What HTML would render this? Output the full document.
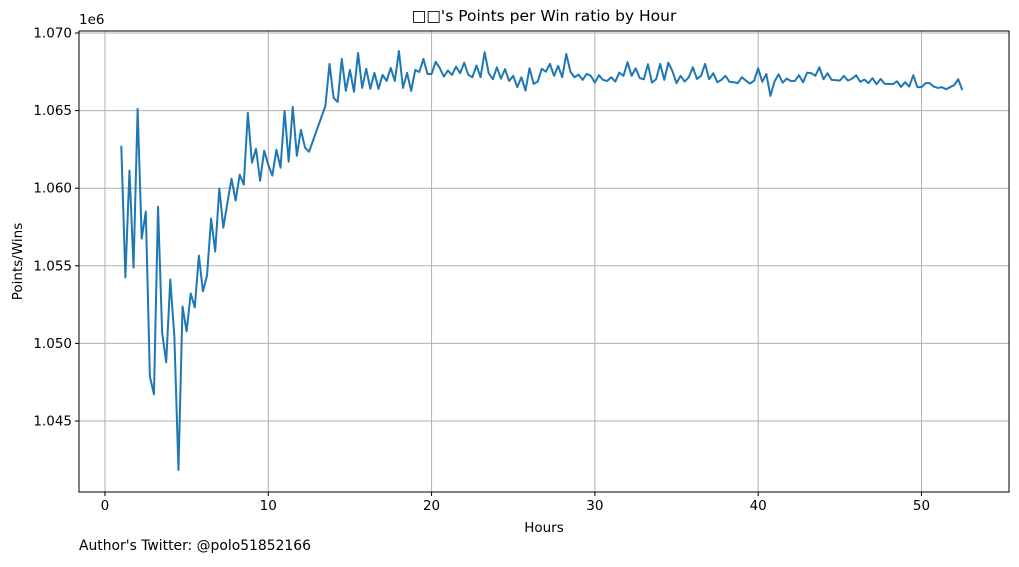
<!DOCTYPE html>
<html><head><meta charset="utf-8"><style>
body{margin:0;background:#fff;}
svg text{font-family:"DejaVu Sans","Liberation Sans","Noto Sans CJK SC",sans-serif;fill:#000;}
</style></head><body>
<svg id="chart" width="1019" height="562" xmlns="http://www.w3.org/2000/svg"></svg>
<script>
const xTicks=[0,10,20,30,40,50];
const yTicks=[1045000,1050000,1055000,1060000,1065000,1070000];
const yTickLabels=["1.045","1.050","1.055","1.060","1.065","1.070"];
const hours=[1,1.25,1.5,1.75,2,2.25,2.5,2.75,3,3.25,3.5,3.75,4,4.25,4.5,4.75,5,5.25,5.5,5.75,6,6.25,6.5,6.75,7,7.25,7.5,7.75,8,8.25,8.5,8.75,9,9.25,9.5,9.75,10,10.25,10.5,10.75,11,11.25,11.5,11.75,12,12.25,12.5,
13.5,13.75,14,14.25,14.5,14.75,15,15.25,15.5,15.75,16,16.25,16.5,16.75,17,17.25,17.5,17.75,18,18.25,18.5,18.75,19,19.25,19.5,19.75,20,20.25,20.5,20.75,21,21.25,21.5,21.75,22,22.25,22.5,22.75,23,23.25,23.5,23.75,24,24.25,24.5,24.75,25,25.25,25.5,25.75,26,26.25,26.5,26.75,27,27.25,27.5,27.75,28,28.25,28.5,28.75,29,29.25,29.5,29.75,30,30.25,30.5,30.75,31,31.25,31.5,31.75,32,32.25,32.5,32.75,33,33.25,33.5,33.75,34,34.25,34.5,34.75,35,35.25,35.5,35.75,36,36.25,36.5,36.75,37,37.25,37.5,37.75,38,38.25,38.5,38.75,39,39.25,39.5,39.75,40,40.25,40.5,40.75,41,41.25,41.5,41.75,42,42.25,42.5,42.75,43,43.25,43.5,43.75,44,44.25,44.5,44.75,45,45.25,45.5,45.75,46,46.25,46.5,46.75,47,47.25,47.5,47.75,48,48.25,48.5,48.75,49,49.25,49.5,49.75,50,50.25,50.5,50.75,51,51.25,51.5,51.75,52,52.25,52.5,52.8];
const ratioK=[1062.73,1054.25,1061.13,1054.89,1065.11,1056.75,1058.49,1047.88,1046.72,1058.81,1050.71,1048.78,1054.12,1050.45,1041.84,1052.38,1050.77,1053.22,1052.32,1055.66,1053.35,1054.38,1058.04,1055.92,1059.97,1057.46,1059.07,1060.61,1059.20,1060.87,1060.23,1064.86,1061.64,1062.54,1060.48,1062.41,1061.51,1060.81,1062.48,1061.32,1064.98,1061.71,1065.24,1062.09,1063.76,1062.61,1062.35,
1065.31,1068.01,1065.82,1065.56,1068.33,1066.27,1067.62,1066.21,1068.71,1066.46,1067.69,1066.40,1067.43,1066.40,1067.30,1066.91,1067.75,1066.91,1068.84,1066.46,1067.43,1066.27,1067.62,1067.49,1068.33,1067.36,1067.36,1068.14,1067.75,
1067.19,1067.58,1067.30,1067.83,1067.41,1068.09,1067.30,1067.15,1067.90,1067.15,1068.76,1067.41,1067.02,1067.79,1067.06,1067.67,1066.91,1067.24,1066.51,1067.15,1066.29,1067.73,1066.72,1066.87,1067.69,1067.51,1068.01,1067.24,1067.88,1067.15,1068.65,1067.51,1067.15,1067.32,1066.98,1067.36,1067.24,1066.80,1067.28,1066.98,1066.91,1067.15,1066.87,1067.45,1067.24,1068.12,1067.24,1067.73,1067.09,1067.02,1067.99,1066.80,1067.02,1068.01,1066.98,1068.09,1067.54,1066.77,1067.24,1066.87,1067.15,1067.79,1067.04,1067.24,1068.01,1067.02,1067.41,1066.83,
1066.98,1067.24,1066.85,1066.83,1066.77,1067.15,1066.93,1066.74,1066.93,1067.73,1066.85,1067.36,1065.95,1066.87,1067.34,1066.80,1067.06,1066.91,1066.91,1067.28,1066.83,1067.45,1067.41,1067.24,1067.79,1067.02,1067.41,1066.98,1066.96,1066.93,1067.24,1066.93,1067.06,1067.28,1066.85,1067.00,1066.77,1067.09,1066.70,1067.04,1066.72,1066.72,1066.70,1066.89,1066.53,1066.83,1066.55,1067.28,1066.51,1066.51,1066.77,1066.77,1066.55,1066.46,1066.51,1066.38,1066.51,1066.64,1067.02,1066.33];

const NS="http://www.w3.org/2000/svg";
const svg=document.getElementById('chart');
const L=79,R=1009,T=31,B=492;
const xMin=-1.59,xMax=55.36,yMin=1040425,yMax=1070129;
const xs=v=>L+(v-xMin)/(xMax-xMin)*(R-L);
const ys=v=>B-(v-yMin)/(yMax-yMin)*(B-T);
function mk(tag,attrs,txt){const e=document.createElementNS(NS,tag);for(const k in attrs)e.setAttribute(k,attrs[k]);if(txt!==undefined)e.textContent=txt;svg.appendChild(e);return e;}

xTicks.forEach(t=>{const x=xs(t);
 let g=mk('line',{x1:x,x2:x,y1:T,y2:B,stroke:'#b0b0b0','stroke-width':1});
 
 let tk=mk('line',{x1:x,x2:x,y1:B,y2:B+4,stroke:'#000'});
 
 let tl=mk('text',{x:x,y:B+18,'font-size':13.5,'text-anchor':'middle'},String(t));
 
});
yTicks.forEach((t,i)=>{const y=ys(t);
 let g=mk('line',{x1:L,x2:R,y1:y,y2:y,stroke:'#b0b0b0','stroke-width':1});
 
 let tk=mk('line',{x1:L-4,x2:L,y1:y,y2:y,stroke:'#000'});
 
 let tl=mk('text',{x:L-7,y:y+4.5,'font-size':13.5,'text-anchor':'end'},yTickLabels[i]);
 
});
const d=hours.map((h,i)=>(i?'L':'M')+xs(h).toFixed(2)+','+ys(ratioK[i]*1000).toFixed(2)).join('');
const line=mk('path',{d:d,fill:'none',stroke:'#1f77b4','stroke-width':2,'stroke-linejoin':'round'});


const frame=mk('rect',{x:L,y:T,width:R-L,height:B-T,fill:'none',stroke:'#000','stroke-width':1});


const off=mk('text',{x:L,y:24,'font-size':13.5},'1e6');


const title=mk('text',{x:(L+R)/2,y:21,'font-size':15.5,'text-anchor':'middle'},"□□'s Points per Win ratio by Hour");


const xl=mk('text',{x:(L+R)/2,y:532,'font-size':13.5,'text-anchor':'middle'},'Hours');


const yl=mk('text',{x:22,y:(T+B)/2,'font-size':13.5,'text-anchor':'middle',transform:'rotate(-90 22 '+((T+B)/2)+')'},'Points/Wins');


const ft=mk('text',{x:79,y:550,'font-size':13.9},"Author's Twitter: @polo51852166");


</script>
</body></html>
